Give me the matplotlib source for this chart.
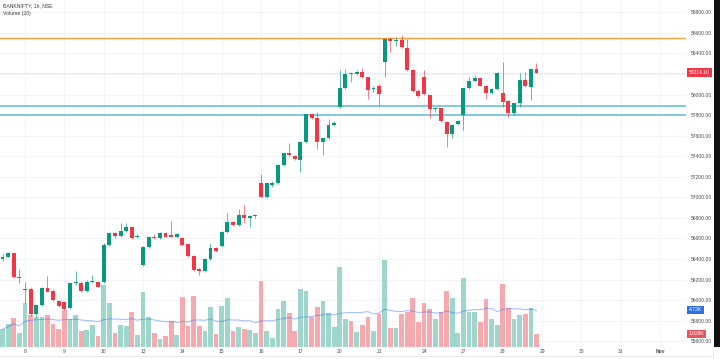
import matplotlib
matplotlib.use("Agg")
import matplotlib.pyplot as plt
import matplotlib.transforms as mtransforms
import numpy as np
import pandas as pd
from matplotlib.patches import Rectangle

# ---------------- data ----------------
symbol_title = "BANKNIFTY, 1h, NSE"
volume_title = "Volume (20)"

opens = [56399, 56421, 56455, 56218, 56100, 56104, 55864, 55951, 56114, 56088,
         55995, 55977, 55919, 56162, 56168, 56091, 56172, 56178, 56178, 56535,
         56649, 56623, 56671, 56707, 56613, 56340, 56519, 56616, 56600, 56649,
         56633, 56616, 56600, 56542, 56428, 56298, 56282, 56399, 56503, 56529,
         56665, 56762, 56730, 56827, 56801, 56815, 57142, 57006, 57119, 57135,
         57314, 57427, 57401, 57362, 57541, 57810, 57768, 57534, 57573, 57703,
         57875, 58060, 58206, 58196, 58222, 58167, 58050, 58083, 58313, 58537,
         58517, 58530, 58456, 58238, 58034, 58173, 57995, 57862, 57865, 57735,
         57616, 57713, 57800, 58060, 58131, 58164, 58083, 58018, 58053, 58011,
         57937, 57817, 57914, 58141, 58076, 58245]
highs = [56457, 56470, 56462, 56299, 56178, 56130, 55961, 56130, 56234, 56110,
         56000, 55990, 56178, 56285, 56185, 56195, 56243, 56188, 56551, 56660,
         56660, 56746, 56752, 56715, 56640, 56525, 56625, 56640, 56660, 56665,
         56772, 56650, 56610, 56550, 56435, 56310, 56410, 56551, 56515, 56672,
         56843, 56770, 56882, 56925, 56830, 56840, 57226, 57140, 57160, 57320,
         57435, 57531, 57410, 57550, 57815, 57823, 57833, 57580, 57762, 57745,
         58238, 58245, 58222, 58235, 58261, 58170, 58083, 58105, 58547, 58563,
         58563, 58579, 58537, 58245, 58050, 58238, 58000, 57876, 57870, 57740,
         57710, 57755, 58066, 58174, 58190, 58170, 58090, 58060, 58222, 58319,
         57945, 57920, 58212, 58222, 58250, 58310]
lows = [56383, 56415, 56211, 56163, 55968, 55844, 55838, 55940, 56075, 55990,
        55930, 55900, 55910, 56150, 56081, 56081, 56165, 56123, 56168, 56525,
        56600, 56616, 56665, 56597, 56600, 56334, 56510, 56595, 56590, 56610,
        56610, 56605, 56525, 56420, 56285, 56243, 56275, 56390, 56470, 56520,
        56655, 56720, 56720, 56750, 56707, 56797, 57000, 56995, 57096, 57130,
        57305, 57400, 57360, 57249, 57530, 57760, 57470, 57411, 57560, 57695,
        57865, 58050, 58125, 58190, 58160, 57953, 58027, 57888, 58167, 58417,
        58472, 58450, 58230, 58025, 57972, 57995, 57768, 57833, 57735, 57486,
        57573, 57700, 57654, 58050, 58125, 58080, 57953, 58010, 58045, 57875,
        57778, 57800, 57875, 58075, 57947, 58205]
closes = [56421, 56455, 56221, 56224, 56106, 55864, 55951, 56114, 56081, 55999,
          55941, 55912, 56162, 56172, 56091, 56178, 56178, 56130, 56535, 56649,
          56623, 56675, 56707, 56606, 56626, 56519, 56616, 56603, 56649, 56616,
          56616, 56639, 56535, 56428, 56292, 56282, 56399, 56503, 56480, 56665,
          56762, 56730, 56827, 56795, 56817, 56818, 57006, 57135, 57135, 57314,
          57427, 57411, 57372, 57541, 57810, 57768, 57534, 57573, 57703, 57726,
          58060, 58200, 58196, 58222, 58167, 58044, 58054, 58005, 58537, 58517,
          58530, 58465, 58238, 58034, 57985, 58005, 57856, 57864, 57742, 57616,
          57703, 57745, 58060, 58131, 58164, 58086, 58018, 58053, 58206, 57930,
          57817, 57914, 58141, 58083, 58245, 58214.10]
volumes_k = [2.2, 2.9, 3.7, 1.8, 5.6, 4.1, 3.8, 3.8, 4.0, 2.9,
             2.3, 4.7, 3.5, 4.0, 2.0, 2.1, 2.8, 1.3, 7.9, 5.6,
             1.7, 2.8, 2.6, 4.4, 1.5, 7.0, 3.8, 1.7, 1.0, 1.35,
             3.3, 1.5, 6.4, 2.6, 6.5, 2.6, 2.0, 5.05, 1.6, 5.2,
             6.2, 2.0, 2.45, 2.3, 2.1, 1.7, 8.4, 2.0, 1.1, 4.8,
             5.8, 4.3, 2.0, 7.4, 7.2, 3.8, 5.05, 5.9, 4.3, 2.5,
             10.2, 3.5, 3.3, 1.9, 2.8, 3.85, 2.0, 4.2, 11.15, 2.4,
             2.4, 4.15, 4.5, 6.3, 3.1, 5.55, 4.8, 3.6, 4.5, 7.2,
             6.2, 1.8, 8.8, 4.4, 4.4, 3.1, 6.1, 3.6, 2.8, 8.05,
             5.0, 3.5, 4.05, 4.2, 4.9, 1.626]

# trading sessions (day label, number of hourly bars shown)
session_days = ["7", "8", "9", "10", "13", "14", "15", "16", "17", "20", "21", "23",
                "24", "27", "28"]
session_bars = [4, 7, 7, 7, 7, 7, 7, 7, 7, 7, 1, 7, 7, 7, 7]
future_days = ["29", "30", "31", "Nov"]
bars_per_day = 7

level_orange = 58547
levels_cyan = [57888, 57803]
last_price = 58214.10
last_price_label = "58214.10"
vol_ma_label_value = 4.72
vol_ma_label = "4.72K"
last_vol_label_value = 1.626
last_vol_label = "1.626K"
price_ticks = [55600, 55800, 56000, 56200, 56400, 56600, 56800, 57000, 57200,
               57400, 57600, 57800, 58000, 58400, 58600, 58800]
grid_prices = [55600, 55800, 56000, 56200, 56400, 56600, 56800, 57000, 57200,
               57400, 57600, 57800, 58000, 58200, 58400, 58600, 58800]

# ---------------- styling ----------------
UP = "#089981"
DOWN = "#F23645"
VUP = "#9fd6cb"
VDOWN = "#f6a9af"
TXT = "#4a4d57"
FONT = ["Liberation Sans", "DejaVu Sans"]
plt.rcParams["font.family"] = FONT

W, H = 720, 359
fig = plt.figure(figsize=(W / 100, H / 100), dpi=100)
fig.patch.set_facecolor("white")

plot_right = 686
plot_bottom = 346.5
rect = [0, (H - plot_bottom) / H, plot_right / W, plot_bottom / H]

axg = fig.add_axes(rect, zorder=1)
axv = fig.add_axes(rect, zorder=2)
ax = fig.add_axes(rect, zorder=3)
for a in (axv, ax):
    a.patch.set_visible(False)
for a in (axg, axv, ax):
    for s in a.spines.values():
        s.set_visible(False)

n = len(closes)
x = np.arange(n)
xmin, xmax = -0.45, 121.6
ymin, ymax = 55548, 58920
for a in (axg, axv, ax):
    a.set_xlim(xmin, xmax)
ax.set_ylim(ymin, ymax)
axg.set_ylim(ymin, ymax)

# day label positions
starts = np.cumsum([0] + session_bars[:-1])
label_pos, label_txt = [], []
last = -100
for i, (d, s) in enumerate(zip(session_days, starts)):
    if i == 0:
        continue
    if s - last >= 3:
        label_pos.append(s)
        label_txt.append(d)
        last = s
fstart = n
for k, d in enumerate(future_days):
    label_pos.append(fstart + k * bars_per_day)
    label_txt.append(d)

# grid
for gp in grid_prices:
    axg.axhline(gp, color="#f2f3f6", lw=0.6, zorder=0)
for lp in label_pos:
    axg.axvline(lp, color="#f2f3f6", lw=0.6, zorder=0)
for a in (axg, axv):
    a.set_xticks([])
    a.set_yticks([])

# volume
vcols = [VUP if c >= o else VDOWN for o, c in zip(opens, closes)]
axv.bar(x, volumes_k, width=0.84, color=vcols, linewidth=0)
vol_ma = pd.Series(volumes_k).rolling(20, min_periods=1).mean()
axv.plot(x, vol_ma, color="#2962ff", alpha=0.4, lw=0.8)
vtop = plot_bottom / 7.76
axv.set_ylim(0, vtop)

# horizontal levels
ax.axhline(level_orange, color="#f5a03c", lw=1.0, zorder=1)
for lv in levels_cyan:
    ax.axhline(lv, color="#5cc0da", lw=1.4, alpha=0.8, zorder=1)
ax.axhline(last_price, color=DOWN, lw=0.6, alpha=0.3, ls=(0, (1, 1)), zorder=1)

# candles
ccols = [UP if c >= o else DOWN for o, c in zip(opens, closes)]
ax.vlines(x, lows, highs, colors=ccols, lw=0.6, alpha=0.75, zorder=2)
bottoms = np.minimum(opens, closes)
heights = np.maximum(np.abs(np.array(closes) - np.array(opens)), 9)
ax.bar(x, heights, bottom=bottoms, width=0.7, color=ccols, linewidth=0, zorder=3)

# axes ticks
ax.yaxis.tick_right()
ax.set_yticks(price_ticks)
ax.set_yticklabels([f"{p:.2f}" for p in price_ticks])
ax.tick_params(axis="y", length=0, pad=3.2, labelsize=3.6, labelcolor=TXT)
ax.set_xticks(label_pos)
ax.set_xticklabels(label_txt)
ax.tick_params(axis="x", length=0, pad=2.0, labelsize=3.6, labelcolor=TXT)
for t in ax.get_xticklabels():
    if t.get_text() == "Nov":
        t.set_fontweight("bold")

# right-side value labels
trans_p = mtransforms.blended_transform_factory(ax.transAxes, ax.transData)
trans_v = mtransforms.blended_transform_factory(axv.transAxes, axv.transData)
xoff = 1 + 3.0 / plot_right
ax.text(xoff, last_price, last_price_label, transform=trans_p, fontsize=3.6,
        color="white", va="center", ha="left", clip_on=False, zorder=10,
        bbox=dict(boxstyle="square,pad=0.35", fc=DOWN, ec="none"))
axv.text(xoff, vol_ma_label_value, vol_ma_label, transform=trans_v, fontsize=3.6,
         color="white", va="center", ha="left", clip_on=False, zorder=10,
         bbox=dict(boxstyle="square,pad=0.35", fc="#2f6fe8", ec="none"))
axv.text(xoff, last_vol_label_value, last_vol_label, transform=trans_v, fontsize=3.6,
         color="white", va="center", ha="left", clip_on=False, zorder=10,
         bbox=dict(boxstyle="square,pad=0.35", fc="#e8545c", ec="none"))

# titles
fig.text(3 / W, 1 - 6 / H, symbol_title, fontsize=3.7, color="#3b3e47",
         va="center", ha="left")
fig.text(3 / W, 1 - 13.3 / H, volume_title, fontsize=3.7, color="#3b3e47",
         va="center", ha="left")

# frame details
fig.add_artist(Rectangle((714 / W, (H - 347) / H), 6 / W, 347 / H,
                         transform=fig.transFigure, fc="#111111", ec="none"))
fig.add_artist(plt.Line2D([0, 713 / W], [(H - 355.7) / H] * 2,
                          transform=fig.transFigure, color="#e6e7ea", lw=0.6))
fig.add_artist(plt.Line2D([713 / W] * 2, [0, (H - 347) / H],
                          transform=fig.transFigure, color="#e6e7ea", lw=0.6))

fig.savefig("out.png", dpi=100, facecolor="white")
